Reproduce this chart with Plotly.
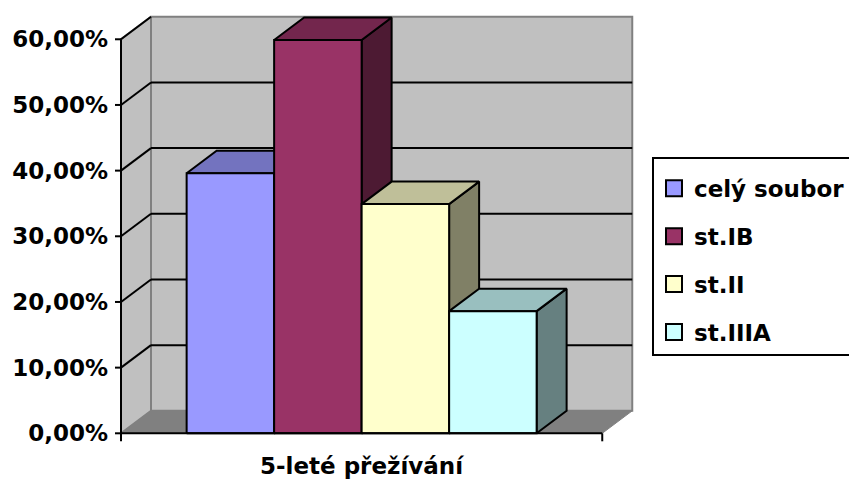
import plotly.graph_objects as go

# Data: 5-year survival by stage
series = ["celý soubor", "st.IB", "st.II", "st.IIIA"]
survival = [0.396, 0.599, 0.349, 0.186]
y_ticks = [0.0, 0.1, 0.2, 0.3, 0.4, 0.5, 0.6]
axis_title = "5-leté přežívání"

front_colors = ["#9999FF", "#993366", "#FFFFCC", "#CCFFFF"]
top_colors = ["#7373BF", "#73264D", "#BFBF99", "#99BFBF"]
side_colors = ["#4D4D80", "#4D1A33", "#808066", "#668080"]

FONT = "DejaVu Sans"
W, H = 849, 485

# pixel scale of the plot and the 3D depth offset
PX_X = 87.5      # pixels per bar width
PX_Y = 656.7     # pixels per 100 %
X0_PX, Y0_PX = 121.0, 433.3
DX = 30.0 / PX_X
DY = 22.5 / PX_Y
GAP = 0.75               # gap at each side of the bar group (in bar widths)
FLOOR_W = 2 * GAP + len(series)
WALL_TOP = y_ticks[-1]

ML, MR, MT, MB = 112, 212, 12, 40
x_min = -(X0_PX - ML) / PX_X
x_max = x_min + (W - ML - MR) / PX_X
y_min = -((H - MB) - Y0_PX) / PX_Y
y_max = y_min + (H - MT - MB) / PX_Y

fig = go.Figure()


def poly(xs, ys, fill, line_color="black", width=2):
    fig.add_trace(go.Scatter(
        x=list(xs) + [xs[0]], y=list(ys) + [ys[0]], mode="lines", fill="toself",
        fillcolor=fill, line=dict(color=line_color, width=width),
        hoverinfo="skip", showlegend=False))


def seg(xs, ys):
    fig.add_trace(go.Scatter(x=xs, y=ys, mode="lines",
                             line=dict(color="black", width=2),
                             hoverinfo="skip", showlegend=False))


# walls and floor
poly([DX, FLOOR_W + DX, FLOOR_W + DX, DX], [DY, DY, WALL_TOP + DY, WALL_TOP + DY],
     "#C0C0C0", "#808080", 2)
poly([0, DX, DX, 0], [0, DY, WALL_TOP + DY, WALL_TOP], "#C0C0C0", "#808080", 2)
poly([0, FLOOR_W, FLOOR_W + DX, DX], [0, 0, DY, DY], "#808080", "#808080", 1)

# gridlines on the back wall and the side wall
for v in y_ticks[1:-1]:
    seg([DX, FLOOR_W + DX], [v + DY, v + DY])
for v in y_ticks[1:]:
    seg([0, DX], [v, v + DY])

# 3D bars, drawn left to right
for i, v in enumerate(survival):
    x0 = GAP + i
    x1 = x0 + 1
    poly([x1, x1 + DX, x1 + DX, x1], [0, DY, v + DY, v], side_colors[i])
    poly([x0, x1, x1 + DX, x0 + DX], [v, v, v + DY, v + DY], top_colors[i])
    poly([x0, x1, x1, x0], [0, 0, v, v], front_colors[i])

# front axes with their tick marks
tick_len = 6 / PX_X
seg([0, 0], [0, WALL_TOP])
seg([0, FLOOR_W], [0, 0])
for v in y_ticks:
    seg([-tick_len, 0], [v, v])
for xv in [0, FLOOR_W]:
    seg([xv, xv], [0, -8 / PX_Y])

# legend entries
for i, name in enumerate(series):
    fig.add_trace(go.Scatter(
        x=[None], y=[None], mode="markers", name=name, legendgroup=name,
        marker=dict(symbol="square", size=16, color=front_colors[i],
                    line=dict(color="black", width=2))))

fig.update_layout(
    width=W, height=H,
    margin=dict(l=ML, r=MR, t=MT, b=MB, autoexpand=False),
    paper_bgcolor="white", plot_bgcolor="white",
    separators=", ",
    font=dict(family=FONT, size=23, color="black"),
    xaxis=dict(range=[x_min, x_max], visible=False),
    yaxis=dict(range=[y_min, y_max], tickvals=y_ticks, tickformat=".2%",
               showgrid=False, zeroline=False, showline=False, ticks="",
               ticklabelstandoff=3,
               tickfont=dict(family=FONT, size=23, color="black", weight="bold")),
    legend=dict(xref="container", yref="container", x=652 / W, y=1 - 157 / H,
                xanchor="left", yanchor="top", traceorder="grouped",
                tracegroupgap=15, bordercolor="black", borderwidth=2,
                bgcolor="white", entrywidth=240,
                title=dict(text=" ", font=dict(size=6)),
                font=dict(family=FONT, size=23, color="black", weight="bold")),
    annotations=[dict(text="<b>" + axis_title + "</b>", xref="x", yref="paper",
                      x=FLOOR_W / 2, y=-(466 - (H - MB)) / (H - MT - MB),
                      yanchor="middle", xanchor="center", showarrow=False,
                      font=dict(family=FONT, size=23, color="black"))],
    showlegend=True,
)

fig.write_html("out.html")
